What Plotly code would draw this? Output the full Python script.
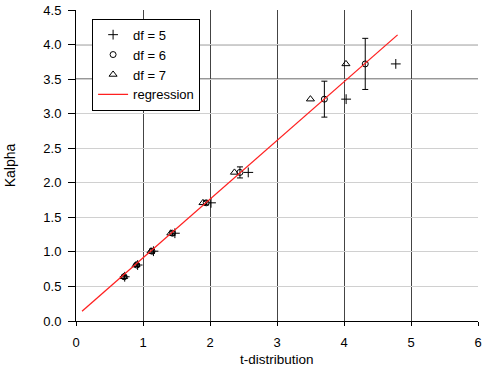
import plotly.graph_objects as go

# Kalpha levels (same for each df)
kalpha = [0.64, 0.81, 1.01, 1.27, 1.71, 2.15, 3.21, 3.72]
t_df5 = [0.727, 0.920, 1.156, 1.476, 2.015, 2.571, 4.032, 4.773]
t_df6 = [0.718, 0.906, 1.134, 1.440, 1.943, 2.447, 3.707, 4.317]
t_df7 = [0.711, 0.896, 1.119, 1.415, 1.895, 2.365, 3.499, 4.029]
err_df6 = [0.02, 0.02, 0.03, 0.03, 0.03, 0.08, 0.26, 0.37]

reg_x = [0.09, 4.80]
reg_y = [0.14, 4.14]

x_ticks = [0, 1, 2, 3, 4, 5, 6]
y_ticks = [0.0, 0.5, 1.0, 1.5, 2.0, 2.5, 3.0, 3.5, 4.0, 4.5]
dark_h_grid = [3.5, 4.0]

font = dict(family="Liberation Sans, Arial, sans-serif", size=13, color="#000")

fig = go.Figure()
fig.add_trace(go.Scatter(
    x=t_df5, y=kalpha, mode="markers", name="df = 5",
    marker=dict(symbol="cross-thin", size=7, color="black",
                line=dict(color="black", width=1))))
fig.add_trace(go.Scatter(
    x=t_df6, y=kalpha, mode="markers", name="df = 6",
    marker=dict(symbol="circle-open", size=6, color="black",
                line=dict(color="black", width=1)),
    error_y=dict(type="data", array=err_df6, color="black",
                 thickness=1, width=3)))
fig.add_trace(go.Scatter(
    x=t_df7, y=kalpha, mode="markers", name="df = 7",
    marker=dict(symbol="triangle-up-open", size=7, color="black",
                line=dict(color="black", width=1))))
fig.add_trace(go.Scatter(
    x=reg_x, y=reg_y, mode="lines", name="regression",
    line=dict(color="#ff2020", width=1.3)))

for yv in dark_h_grid:
    fig.add_shape(type="line", xref="paper", x0=0, x1=1, yref="y",
                  y0=yv, y1=yv, line=dict(color="#333", width=1.3),
                  layer="between")

fig.add_annotation(text="t-distribution", xref="paper", yref="paper",
                   x=0.5, y=0, xanchor="center", yanchor="top",
                   yshift=-29, showarrow=False, font=dict(size=13.5))

fig.update_layout(
    width=484, height=366,
    margin=dict(l=76, r=6, t=10, b=45, autoexpand=False),
    paper_bgcolor="white", plot_bgcolor="white",
    font=font,
    showlegend=True,
    legend=dict(x=0.04, y=0.972, xanchor="left", yanchor="top",
                bgcolor="white", bordercolor="#000", borderwidth=1,
                font=dict(size=13), tracegroupgap=0, itemwidth=30),
    xaxis=dict(range=[0, 6], tickvals=x_ticks, showgrid=True,
               gridcolor="#444", gridwidth=1.2, automargin=False,
               showline=True, linecolor="#000", linewidth=1,
               ticks="outside", ticklen=4, tickcolor="#000",
               ticklabelstandoff=5,
               zeroline=False),
    yaxis=dict(range=[0, 4.5], tickvals=y_ticks, tickformat=".1f",
               showgrid=True, gridcolor="#d0d0d0", gridwidth=1,
               automargin=False,
               showline=True, linecolor="#000", linewidth=1,
               ticks="outside", ticklen=7, tickcolor="#000",
               ticklabelstandoff=4,
               zeroline=False,
               title=dict(text="Kalpha", standoff=24,
                          font=dict(size=14))),
)

fig.write_html("out.html")
